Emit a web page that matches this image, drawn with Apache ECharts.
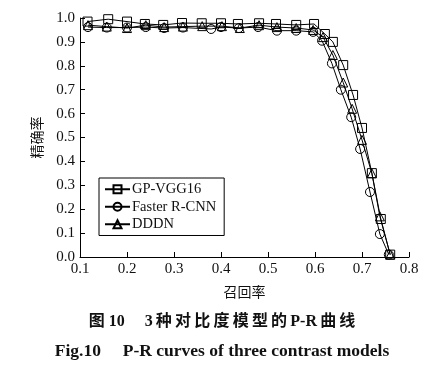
<!DOCTYPE html>
<html>
<head>
<meta charset="utf-8">
<script src="https://cdn.jsdelivr.net/npm/echarts@6/dist/echarts.min.js"></script>
<style>html,body{margin:0;padding:0;background:#fff;}#c{width:444px;height:382px;}</style>
</head>
<body>
<div id="c"></div>
<script>
var xTicks = [0.1,0.2,0.3,0.4,0.5,0.6,0.7,0.8];
var yTicks = [0.0,0.1,0.2,0.3,0.4,0.5,0.6,0.7,0.8,0.9,1.0];
var seriesNames = ['GP-VGG16','Faster R-CNN','DDDN'];

var gpRecall = [0.116,0.160,0.200,0.238,0.277,0.317,0.359,0.400,0.436,0.481,0.517,0.560,0.598,0.621,0.638,0.660,0.681,0.700,0.721,0.740,0.760];
var gpPrecision = [0.985,0.995,0.985,0.975,0.971,0.979,0.978,0.978,0.975,0.978,0.975,0.971,0.975,0.933,0.900,0.803,0.678,0.540,0.351,0.159,0.010];

var frRecall = [0.117,0.157,0.200,0.240,0.279,0.319,0.379,0.400,0.438,0.479,0.519,0.560,0.596,0.615,0.636,0.655,0.677,0.696,0.717,0.738,0.757];
var frPrecision = [0.962,0.960,0.960,0.962,0.958,0.960,0.954,0.962,0.958,0.962,0.947,0.947,0.942,0.905,0.810,0.700,0.585,0.452,0.272,0.096,0.010];

var ddRecall = [0.117,0.157,0.200,0.240,0.279,0.319,0.360,0.402,0.440,0.481,0.519,0.560,0.596,0.617,0.638,0.660,0.679,0.700,0.721,0.738,0.760];
var ddPrecision = [0.970,0.964,0.958,0.970,0.962,0.964,0.966,0.966,0.958,0.970,0.962,0.958,0.950,0.920,0.845,0.730,0.620,0.490,0.350,0.170,0.010];

var captionCn = '图 10\u3000 3\u2009种\u2009对\u2009比\u2009度\u2009模\u2009型\u2009的\u2009P-R\u2009曲\u2009线';
var captionEn = 'Fig.10\u3000 P-R curves of three contrast models';

function pairs(xs, ys){ return xs.map(function(x,i){ return [x, ys[i]]; }); }

var serif = '"Liberation Serif","Times New Roman","Noto Sans CJK SC",serif';
var symbols = ['rect','circle','triangle'];
var datas = [pairs(gpRecall,gpPrecision), pairs(frRecall,frPrecision), pairs(ddRecall,ddPrecision)];

var chart = echarts.init(document.getElementById('c'), null, {renderer:'canvas'});
var option = {
  backgroundColor:'#fff',
  animation:false,
  title:[
    {text:captionCn, left:'center', top:309,
     textStyle:{fontFamily:serif, fontSize:16, fontWeight:'bold', color:'#111'}},
    {text:captionEn, left:'center', top:338,
     textStyle:{fontFamily:serif, fontSize:17.5, fontWeight:'bold', color:'#111'}}
  ],
  grid:{left:80, right:35, top:18, bottom:125, containLabel:false},
  legend:{
    orient:'vertical', left:99, top:178,
    data:seriesNames,
    borderColor:'#000', borderWidth:1, padding:[4,8,4,5], itemGap:3,
    itemWidth:25, itemHeight:10,
    textStyle:{fontFamily:serif, fontSize:14.5, color:'#111', padding:[0,0,0,-3]}
  },
  xAxis:{
    type:'value', min:0.1, max:0.8, interval:0.1,
    name:'召回率', nameLocation:'middle', nameGap:29,
    nameTextStyle:{fontFamily:serif, fontSize:14, color:'#111'},
    axisLine:{lineStyle:{color:'#000', width:1}},
    axisTick:{inside:true, length:5, lineStyle:{color:'#000'}},
    axisLabel:{fontFamily:serif, fontSize:15, color:'#111', margin:5,
      formatter:function(v){ return v.toFixed(1); }},
    splitLine:{show:false}
  },
  yAxis:{
    type:'value', min:0, max:1, interval:0.1,
    name:'精确率', nameLocation:'middle', nameGap:32, nameRotate:90,
    nameTextStyle:{fontFamily:serif, fontSize:14, color:'#111'},
    axisLine:{show:true, lineStyle:{color:'#000', width:1}},
    axisTick:{show:true, inside:true, length:5, lineStyle:{color:'#000'}},
    axisLabel:{fontFamily:serif, fontSize:15, color:'#111', margin:5,
      formatter:function(v){ return v.toFixed(1); }},
    splitLine:{show:false}
  },
  series: seriesNames.map(function(n,i){
    return {
      name:n, type:'line', data:datas[i],
      symbol:symbols[i], symbolSize:9, showAllSymbol:true,
      lineStyle:{color:'#000', width:1},
      itemStyle:{color:'rgba(255,255,255,0)', borderColor:'#000', borderWidth:1},
      emphasis:{disabled:true}
    };
  })
};
chart.setOption(option);
</script>
</body>
</html>
